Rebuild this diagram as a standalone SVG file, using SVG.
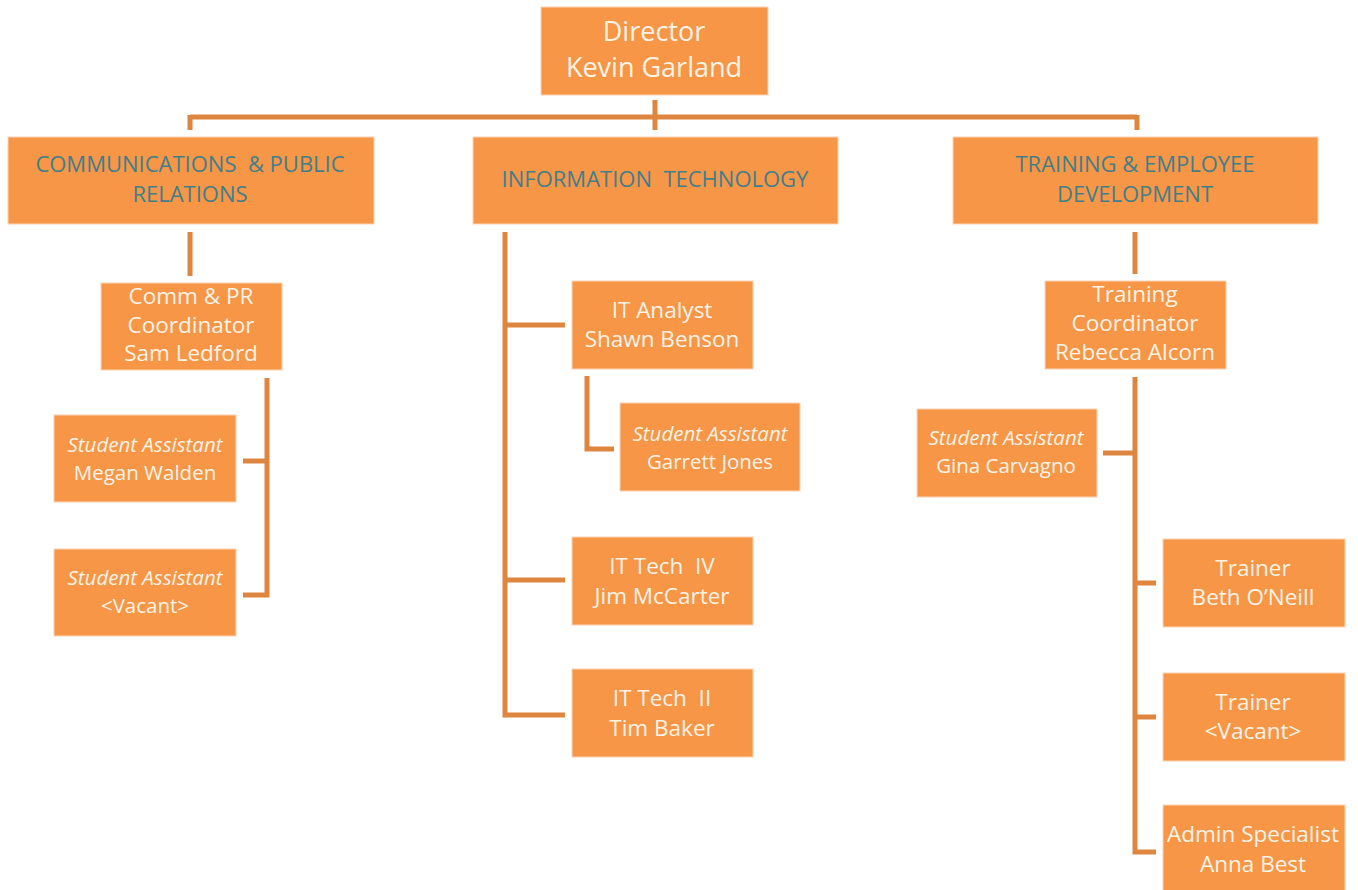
<svg xmlns="http://www.w3.org/2000/svg" width="1358" height="890" viewBox="0 0 1358 890">
<style>
.box{fill:#F79646;stroke:#FBD4B4;stroke-width:1}
.t{font-family:"Open Sans","Liberation Sans",sans-serif;fill:#FFF3E6;text-anchor:middle}
.big{font-size:27px}
.n{font-size:22.5px}
.s{font-size:20.5px}
.i{font-style:italic}
.h{font-family:"Open Sans","Liberation Sans",sans-serif;font-size:22px;fill:#3F7F8C;text-anchor:middle}
.c{fill:none;stroke:#DE8540;stroke-width:5;stroke-linecap:butt}
</style>
<rect width="1358" height="890" fill="#FFFFFF"/>
<g id="connectors">
<path class="c" d="M190 117H1137M655 100V130M190 115V130M1137 115V130"/>
<path class="c" d="M190 232V276"/>
<path class="c" d="M267 378V595H243M267 461H243"/>
<path class="c" d="M505 232V715H565M505 325H565M505 580H565"/>
<path class="c" d="M587 376V449H614"/>
<path class="c" d="M1135 232V274"/>
<path class="c" d="M1135 377V852H1156M1135 453H1103M1135 583H1156M1135 717H1156"/>
</g>
<g id="director"><rect class="box" x="541" y="7" width="227" height="88"/><text class="t big" x="654" y="41">Director</text><text class="t big" x="654" y="77">Kevin Garland</text></g>
<g id="comm"><rect class="box" x="8" y="137" width="366" height="87"/><text class="h" x="190" y="172" xml:space="preserve">COMMUNICATIONS  &amp; PUBLIC</text><text class="h" x="190" y="202">RELATIONS</text></g>
<g id="it"><rect class="box" x="473" y="137" width="365" height="87"/><text class="h" x="655" y="187" xml:space="preserve">INFORMATION  TECHNOLOGY</text></g>
<g id="training"><rect class="box" x="953" y="137" width="365" height="87"/><text class="h" x="1135" y="172">TRAINING &amp; EMPLOYEE</text><text class="h" x="1135" y="202">DEVELOPMENT</text></g>
<g id="comm-coord"><rect class="box" x="101" y="283" width="181" height="87"/><text class="t n" x="191" y="304">Comm &amp; PR</text><text class="t n" x="191" y="333">Coordinator</text><text class="t n" x="191" y="361">Sam Ledford</text></g>
<g id="megan"><rect class="box" x="54" y="415" width="182" height="87"/><text class="t s i" x="145" y="452">Student Assistant</text><text class="t s" x="145" y="480">Megan Walden</text></g>
<g id="comm-vacant"><rect class="box" x="54" y="549" width="182" height="87"/><text class="t s i" x="145" y="585">Student Assistant</text><text class="t s" x="145" y="613">&lt;Vacant&gt;</text></g>
<g id="it-analyst"><rect class="box" x="572" y="281" width="181" height="88"/><text class="t n" x="662" y="318">IT Analyst</text><text class="t n" x="662" y="347">Shawn Benson</text></g>
<g id="garrett"><rect class="box" x="620" y="403" width="180" height="88"/><text class="t s i" x="710" y="441">Student Assistant</text><text class="t s" x="710" y="469">Garrett Jones</text></g>
<g id="tech4"><rect class="box" x="572" y="537" width="181" height="88"/><text class="t n" x="662" y="574" xml:space="preserve">IT Tech  IV</text><text class="t n" x="662" y="604">Jim McCarter</text></g>
<g id="tech2"><rect class="box" x="572" y="669" width="181" height="88"/><text class="t n" x="662" y="706" xml:space="preserve">IT Tech  II</text><text class="t n" x="662" y="736">Tim Baker</text></g>
<g id="train-coord"><rect class="box" x="1045" y="281" width="181" height="88"/><text class="t n" x="1135" y="302">Training</text><text class="t n" x="1135" y="331">Coordinator</text><text class="t n" x="1135" y="360">Rebecca Alcorn</text></g>
<g id="gina"><rect class="box" x="917" y="409" width="180" height="88"/><text class="t s i" x="1006" y="445">Student Assistant</text><text class="t s" x="1006" y="473">Gina Carvagno</text></g>
<g id="beth"><rect class="box" x="1163" y="539" width="182" height="88"/><text class="t n" x="1253" y="576">Trainer</text><text class="t n" x="1253" y="605">Beth O’Neill</text></g>
<g id="trainer-vacant"><rect class="box" x="1163" y="673" width="182" height="88"/><text class="t n" x="1253" y="710">Trainer</text><text class="t n" x="1253" y="739">&lt;Vacant&gt;</text></g>
<g id="admin"><rect class="box" x="1163" y="805" width="182" height="86"/><text class="t n" x="1253" y="842">Admin Specialist</text><text class="t n" x="1253" y="872">Anna Best</text></g>
</svg>
